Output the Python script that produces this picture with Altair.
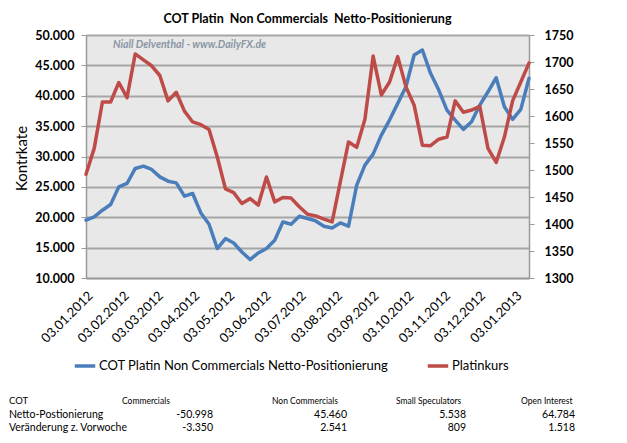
import altair as alt
import pandas as pd

# ---------------- data ----------------
dates = pd.date_range("2012-01-03", periods=55, freq="7D")

cot_netto = [19512, 20056, 21160, 22100, 25000, 25560, 28032, 28410, 27870, 26648,
             25940, 25660, 23467, 23910, 20715, 18853, 14848, 16496, 15770, 14288,
             13035, 14123, 14848, 16216, 19232, 18853, 20171, 19792, 19397, 18523,
             18243, 19068, 18523, 25280, 28576, 30389, 33520, 35992, 38744, 41480,
             46704, 47528, 43688, 40936, 37640, 35992, 34460, 35712, 38464, 40656,
             42963, 38184, 36108, 37755, 42864]

platinkurs = [1492, 1540, 1626, 1626, 1662, 1634, 1715, 1704, 1693, 1675,
              1628, 1644, 1609, 1589, 1584, 1575, 1524, 1465, 1458, 1438,
              1447, 1435, 1487, 1441, 1449, 1448, 1432, 1418, 1415, 1409,
              1404, 1478, 1552, 1542, 1594, 1711, 1639, 1663, 1710, 1654,
              1620, 1546, 1545, 1557, 1561, 1628, 1607, 1611, 1618, 1540,
              1514, 1561, 1628, 1663, 1698]

series_names = ["COT Platin Non Commercials Netto-Positionierung", "Platinkurs"]

table_row_labels = ["COT", "Netto-Postionierung", "Veränderung z. Vorwoche"]
table_cols = ["Commercials", "Non Commercials", "Small Speculators", "Open Interest"]
table_netto = [-50998, 45460, 5538, 64784]
table_change = [-3350, 2541, 809, 1518]

left_ticks = list(range(10000, 50001, 5000))
right_ticks = list(range(1300, 1751, 50))
month_labels = [(2012, m) for m in range(1, 13)] + [(2013, 1)]

# ---------------- layout / style ----------------
W, H = 443, 243
PAD = {"left": 78, "top": 27, "right": 88, "bottom": 156}
OX, OY = 86, 35  # plot origin on page
BLUE = "#4A7EBB"
RED = "#BE4B48"
FONT = "Lato"
AXIS_GRAY = "#9a9a9a"


def de(v):
    return f"{v:,}".replace(",", ".")


df_cot = pd.DataFrame({"date": dates, "value": cot_netto, "series": series_names[0]})
df_pt = pd.DataFrame({"date": dates, "value": platinkurs, "series": series_names[1]})

x_enc = alt.X(
    "date:T",
    scale=alt.Scale(domain=[alt.DateTime(year=2012, month=1, date=3),
                            alt.DateTime(year=2013, month=1, date=15)]),
    axis=alt.Axis(
        values=[alt.DateTime(year=y, month=m, date=3) for (y, m) in month_labels],
        format="%d.%m.%Y", labelAngle=-45, labelAlign="right", labelBaseline="top",
        ticks=False, labelPadding=11, grid=False, domainColor=AXIS_GRAY, domainWidth=1.5,
        labelFont=FONT, labelFontSize=13, labelColor="#000", title=None,
        labelOverlap=False, labelFlush=False),
)

color_enc = alt.Color(
    "series:N",
    scale=alt.Scale(domain=series_names, range=[BLUE, RED]),
    legend=alt.Legend(
        title=None, orient="none", legendX=-13, legendY=319, direction="horizontal",
        symbolType="stroke", symbolStrokeWidth=3.5, symbolSize=420,
        labelFont=FONT, labelFontSize=13, labelColor="#000", columnPadding=31,
        labelOffset=2, padding=0, labelLimit=0),
)

blue_line = alt.Chart(df_cot).mark_line(strokeWidth=3.5, strokeJoin="round", strokeCap="round").encode(
    x=x_enc,
    y=alt.Y("value:Q",
            scale=alt.Scale(domain=[10000, 50000], nice=False, zero=False),
            axis=alt.Axis(values=left_ticks,
                          labelExpr="replace(format(datum.value, ',.0f'), ',', '.')",
                          title="Kontrkate", titleFont=FONT, titleFontSize=15,
                          titleFontWeight="normal", titleColor="#000",
                          titleX=-65, titleY=123, titleAngle=270,
                          titleAlign="center", titleBaseline="middle",
                          labelFont=FONT, labelFontWeight="bold", labelFontSize=12.5,
                          labelColor="#000", tickSize=5, labelPadding=7,
                          grid=True, gridColor="#a6a6a6", gridWidth=1.8,
                          domainColor=AXIS_GRAY, domainWidth=1.5, tickColor=AXIS_GRAY)),
    color=color_enc,
)

red_line = alt.Chart(df_pt).mark_line(strokeWidth=3.5, strokeJoin="round", strokeCap="round").encode(
    x=x_enc,
    y=alt.Y("value:Q",
            scale=alt.Scale(domain=[1300, 1750], nice=False, zero=False),
            axis=alt.Axis(orient="right", values=right_ticks, format="d", title=None,
                          labelFont=FONT, labelFontWeight="bold", labelFontSize=12.5,
                          labelColor="#000", tickSize=5, labelPadding=10, grid=False,
                          domainColor=AXIS_GRAY, domainWidth=1.5, tickColor=AXIS_GRAY)),
    color=color_enc,
)

one = pd.DataFrame({"k": [0]})


def txt(text, px, py, size, align="left", weight="normal", color="#000", style="normal"):
    return alt.Chart(one).mark_text(
        text=text, align=align, baseline="middle", font=FONT, fontSize=size,
        fontWeight=weight, color=color, fontStyle=style,
    ).encode(x=alt.value(px - OX), y=alt.value(py - OY))


texts = [txt("Niall Delventhal - www.DailyFX.de", 113, 45, 10.5, weight="bold",
             color="#8a96a4", style="italic")]

header_x = [122, 272, 396, 521]
value_right = [213, 347, 466, 575]
row_y = [401, 415, 428]

texts.append(txt(table_row_labels[0], 9, row_y[0], 9.5))
for name, hx in zip(table_cols, header_x):
    texts.append(txt(name, hx, row_y[0], 8.5))
texts.append(txt(table_row_labels[1], 9, row_y[1], 10.5))
for v, vx in zip(table_netto, value_right):
    texts.append(txt(de(v), vx, row_y[1], 10.5, align="right"))
texts.append(txt(table_row_labels[2], 9, row_y[2], 10.5))
for v, vx in zip(table_change, value_right):
    texts.append(txt(de(v), vx, row_y[2], 10.5, align="right"))

chart = alt.layer(blue_line, red_line, *texts).resolve_scale(y="independent").properties(
    width=W, height=H,
    padding=PAD,
    autosize=alt.AutoSizeParams(type="none"),
    title=alt.TitleParams(text="COT Platin\u00a0 Non Commercials\u00a0 Netto-Positionierung",
                          font=FONT, fontSize=12.5, fontWeight="bold", color="#000",
                          anchor="middle", frame="group", offset=4),
).configure_view(fill="#e8e8e8", strokeWidth=0)

chart.save("out.html", embed_options={"renderer": "svg", "actions": False})
